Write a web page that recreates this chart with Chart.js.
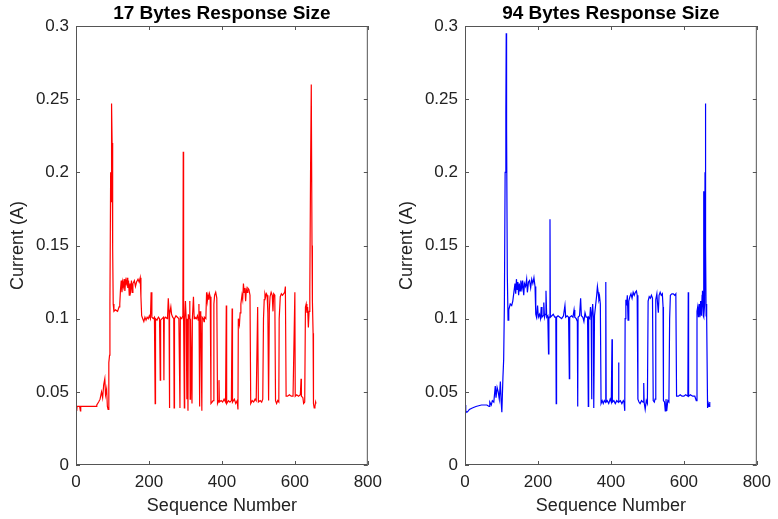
<!DOCTYPE html>
<html>
<head>
<meta charset="utf-8">
<script src="https://cdn.jsdelivr.net/npm/chart.js@4"></script>
<style>
  body { margin: 0; background: #fff; }
  #wrap { position: relative; width: 778px; height: 519px; }
  .panel { position: absolute; top: 0; width: 389px; height: 519px; }
</style>
</head>
<body>
<div id="wrap">
  <div class="panel" style="left:0"><canvas id="left" width="389" height="519"></canvas></div>
  <div class="panel" style="left:389px"><canvas id="right" width="389" height="519"></canvas></div>
</div>
<script>
const titles = ['17 Bytes Response Size', '94 Bytes Response Size'];
const xTicks = [0, 200, 400, 600, 800];
const yTicks = [0, 0.05, 0.1, 0.15, 0.2, 0.25, 0.3];

// 17 bytes trace
const redSeq = [0,2,3,10,12,13,30,55,57,62,66,70,73,76,79,81,84,86,88,90,92,93,95,96,97,98,99,100,101,102,104,108,114,118,120,122,124,126,128,130,132,134,136,138,140,142,144,146,148,150,152,154,156,160,163,166,170,173,176,178,180,183,186,189,192,195,198,201,204,206,208,212,215,217,218,222,226,229,231,232,236,240,241,242,246,250,251,253,255,256,257,260,262,265,268,269,270,274,278,282,285,286,290,293,294,295,297,298,300,302,304,305,307,308,310,312,313,314,318,319,322,324,326,330,333,335,337,339,340,342,345,346,349,351,352,356,358,360,362,364,366,368,370,373,376,378,380,383,386,388,391,392,393,398,402,406,410,412,413,418,422,426,428,429,434,438,442,444,445,448,450,452,455,457,459,461,463,465,467,469,471,474,477,479,483,487,491,494,498,500,505,509,512,514,516,518,520,522,524,526,528,530,532,535,538,540,542,545,547,550,553,556,557,560,563,566,569,572,574,576,580,585,590,595,600,601,605,610,615,617,618,622,624,627,629,631,633,635,637,639,641,643,645,647,648,650,651,653,655,657,658];
const redCurrent = [0.040,0.037,0.040,0.040,0.037,0.040,0.040,0.040,0.041,0.043,0.045,0.050,0.046,0.055,0.059,0.048,0.052,0.040,0.038,0.070,0.075,0.110,0.200,0.180,0.222,0.247,0.220,0.160,0.148,0.110,0.105,0.106,0.105,0.108,0.110,0.120,0.126,0.118,0.125,0.122,0.127,0.119,0.126,0.124,0.128,0.121,0.126,0.116,0.124,0.120,0.126,0.118,0.124,0.126,0.122,0.125,0.127,0.125,0.128,0.115,0.102,0.100,0.098,0.101,0.099,0.101,0.100,0.102,0.100,0.118,0.101,0.100,0.101,0.042,0.100,0.099,0.101,0.100,0.058,0.099,0.100,0.101,0.058,0.100,0.101,0.100,0.101,0.114,0.105,0.039,0.103,0.108,0.103,0.101,0.100,0.039,0.100,0.102,0.101,0.100,0.039,0.101,0.100,0.102,0.214,0.100,0.039,0.100,0.112,0.100,0.045,0.100,0.037,0.103,0.100,0.112,0.045,0.100,0.042,0.100,0.115,0.100,0.101,0.100,0.102,0.099,0.110,0.040,0.105,0.100,0.037,0.101,0.100,0.098,0.101,0.100,0.118,0.112,0.116,0.113,0.117,0.115,0.042,0.043,0.044,0.110,0.116,0.118,0.114,0.042,0.044,0.058,0.043,0.044,0.043,0.045,0.043,0.109,0.042,0.044,0.043,0.044,0.107,0.043,0.045,0.042,0.044,0.038,0.100,0.096,0.104,0.110,0.116,0.113,0.124,0.118,0.121,0.112,0.120,0.118,0.121,0.120,0.116,0.042,0.044,0.043,0.045,0.044,0.108,0.043,0.044,0.043,0.045,0.100,0.113,0.117,0.115,0.117,0.116,0.104,0.044,0.106,0.115,0.118,0.116,0.105,0.117,0.116,0.044,0.042,0.044,0.043,0.100,0.115,0.117,0.116,0.117,0.118,0.122,0.047,0.047,0.048,0.047,0.047,0.118,0.047,0.048,0.047,0.048,0.059,0.047,0.046,0.042,0.043,0.108,0.110,0.104,0.108,0.094,0.105,0.120,0.200,0.260,0.150,0.113,0.090,0.042,0.039,0.040,0.043,0.042];

// 94 bytes trace
const blueSeq = [0,2,5,9,12,20,30,45,60,66,68,72,75,79,83,85,88,91,94,97,99,101,104,106,108,110,112,113,114,116,118,120,124,128,131,134,137,139,141,143,145,147,149,151,153,156,158,161,163,166,169,171,174,177,180,183,186,189,192,194,196,199,201,204,207,209,211,214,216,218,220,222,224,227,229,230,232,233,234,238,242,246,249,250,251,255,260,265,270,274,276,280,284,286,287,292,296,299,301,305,308,309,310,314,317,319,323,326,329,332,336,338,339,342,344,346,347,348,350,352,353,355,358,361,363,365,367,369,371,373,376,379,382,385,386,387,390,394,398,401,403,404,408,412,416,420,421,422,426,430,434,436,438,439,441,443,445,447,449,452,455,458,461,464,467,470,472,474,477,480,484,488,490,491,494,497,500,502,505,508,511,514,516,519,521,523,526,528,530,532,535,538,541,543,544,547,549,551,553,556,559,561,563,567,571,575,578,580,585,590,595,600,605,611,612,613,618,624,630,634,636,638,640,642,644,646,648,650,651,653,654,655,657,658,659,660,661,662,663,665,667,669,671];
const blueCurrent = [0.041,0.037,0.036,0.037,0.038,0.039,0.040,0.041,0.041,0.040,0.043,0.041,0.044,0.043,0.054,0.046,0.053,0.050,0.045,0.057,0.044,0.036,0.060,0.072,0.110,0.200,0.240,0.295,0.230,0.130,0.099,0.106,0.110,0.109,0.112,0.118,0.124,0.117,0.127,0.120,0.125,0.116,0.124,0.119,0.126,0.121,0.126,0.116,0.124,0.122,0.127,0.118,0.125,0.126,0.121,0.127,0.124,0.128,0.122,0.103,0.101,0.109,0.101,0.103,0.100,0.108,0.101,0.102,0.111,0.101,0.103,0.119,0.101,0.102,0.076,0.101,0.101,0.168,0.101,0.102,0.103,0.101,0.101,0.042,0.101,0.102,0.101,0.100,0.102,0.109,0.101,0.102,0.101,0.059,0.101,0.102,0.101,0.106,0.101,0.100,0.098,0.040,0.101,0.102,0.114,0.102,0.101,0.098,0.104,0.101,0.101,0.040,0.101,0.100,0.108,0.101,0.045,0.101,0.110,0.100,0.039,0.102,0.109,0.116,0.122,0.118,0.113,0.115,0.110,0.042,0.044,0.042,0.044,0.043,0.125,0.043,0.044,0.042,0.045,0.043,0.086,0.043,0.044,0.042,0.044,0.043,0.070,0.043,0.044,0.042,0.044,0.043,0.037,0.100,0.113,0.109,0.116,0.099,0.112,0.115,0.117,0.114,0.118,0.116,0.118,0.119,0.116,0.045,0.043,0.042,0.044,0.043,0.056,0.043,0.038,0.044,0.042,0.112,0.115,0.114,0.116,0.114,0.044,0.043,0.045,0.113,0.117,0.110,0.104,0.116,0.118,0.116,0.117,0.108,0.044,0.043,0.037,0.045,0.037,0.044,0.043,0.100,0.116,0.117,0.117,0.116,0.117,0.047,0.047,0.048,0.047,0.047,0.048,0.047,0.118,0.047,0.048,0.047,0.047,0.044,0.105,0.108,0.101,0.110,0.101,0.112,0.102,0.116,0.119,0.102,0.187,0.101,0.110,0.200,0.247,0.150,0.102,0.110,0.101,0.039,0.042,0.040,0.043];

const FONT = "'Liberation Sans', Arial, sans-serif";

// MATLAB-like box with inward ticks and a title centred over the axes
const boxTicks = {
  id: 'boxTicks',
  afterDraw(chart, args, opts) {
    const {ctx, chartArea: a, scales} = chart;
    const len = 4;
    ctx.save();
    ctx.strokeStyle = '#555';
    ctx.lineWidth = 1;
    ctx.strokeRect(a.left + 0.5, a.top + 0.5, a.right - a.left - 1, a.bottom - a.top - 1);
    ctx.beginPath();
    xTicks.forEach(v => {
      const px = Math.round(scales.x.getPixelForValue(v)) + 0.5;
      ctx.moveTo(px, a.bottom); ctx.lineTo(px, a.bottom - len);
      ctx.moveTo(px, a.top); ctx.lineTo(px, a.top + len);
    });
    yTicks.forEach(v => {
      const py = Math.round(scales.y.getPixelForValue(v)) + 0.5;
      ctx.moveTo(a.left, py); ctx.lineTo(a.left + len, py);
      ctx.moveTo(a.right, py); ctx.lineTo(a.right - len, py);
    });
    ctx.stroke();
    ctx.fillStyle = '#000';
    ctx.font = 'bold 19px ' + FONT;
    ctx.textAlign = 'center';
    ctx.textBaseline = 'middle';
    ctx.fillText(opts.text, (a.left + a.right) / 2, 14);
    ctx.restore();
  }
};

function makeChart(id, title, seq, cur, color) {
  const points = seq.map((x, i) => ({x: x, y: cur[i]}));
  return new Chart(document.getElementById(id), {
    type: 'scatter',
    data: {
      datasets: [{
        data: points,
        showLine: true,
        borderColor: color,
        borderWidth: 1.2,
        pointRadius: 0,
        tension: 0
      }]
    },
    options: {
      responsive: false,
      animation: false,
      layout: { padding: { left: 0, right: 18, top: 26, bottom: 0 } },
      plugins: {
        legend: { display: false },
        tooltip: { enabled: false },
        title: { display: false },
        boxTicks: { text: title }
      },
      scales: {
        x: {
          type: 'linear',
          min: 0, max: 800,
          afterBuildTicks: s => { s.ticks = xTicks.map(v => ({value: v})); },
          afterFit: s => { s.height = 54; },
          grid: { display: false, drawTicks: false, tickLength: 0 },
          border: { display: false },
          ticks: { color: '#222', font: { family: FONT, size: 17 }, padding: 7, maxRotation: 0 },
          title: {
            display: true, text: 'Sequence Number', color: '#222',
            font: { family: FONT, size: 18 }, padding: { top: 0, bottom: 2 }
          }
        },
        y: {
          type: 'linear',
          min: 0, max: 0.3,
          afterBuildTicks: s => { s.ticks = yTicks.map(v => ({value: v})); },
          afterFit: s => { s.width = 76; },
          grid: { display: false, drawTicks: false, tickLength: 0 },
          border: { display: false },
          ticks: {
            color: '#222', font: { family: FONT, size: 17 }, padding: 7,
            callback: v => String(+(+v).toFixed(2))
          },
          title: {
            display: true, text: 'Current (A)', color: '#222',
            font: { family: FONT, size: 18 }, padding: { top: 7, bottom: 0 }
          }
        }
      }
    },
    plugins: [boxTicks]
  });
}

makeChart('left', titles[0], redSeq, redCurrent, '#ff0000');
makeChart('right', titles[1], blueSeq, blueCurrent, '#0000ff');
</script>
</body>
</html>
